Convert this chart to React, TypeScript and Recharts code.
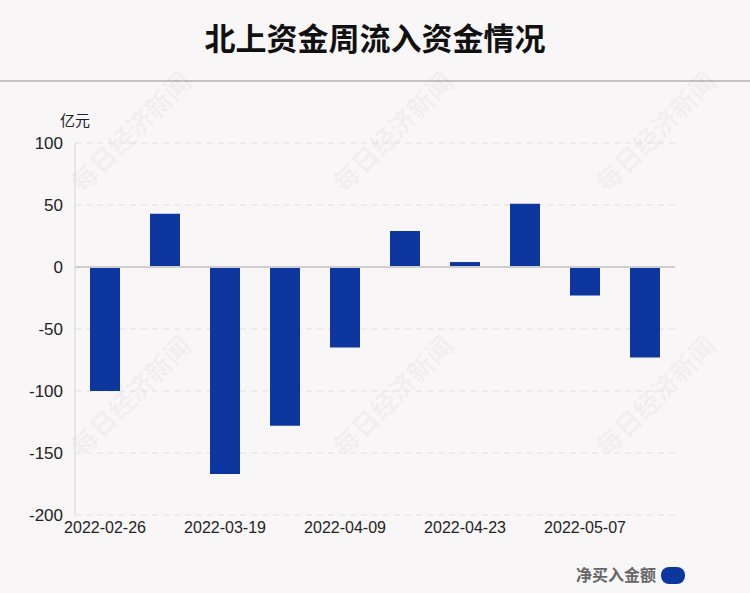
import React from 'react';
import {
  BarChart,
  Bar,
  XAxis,
  YAxis,
  CartesianGrid,
  ReferenceLine,
} from 'recharts';

const weeks = [
  '2022-02-26',
  '2022-03-05',
  '2022-03-19',
  '2022-04-02',
  '2022-04-09',
  '2022-04-16',
  '2022-04-23',
  '2022-04-30',
  '2022-05-07',
  '2022-05-14',
];
const netInflow = [-100, 43, -167, -128, -65, 29, 4, 51, -23, -73];
const yTicks = [100, 50, 0, -50, -100, -150, -200];

const data = weeks.map((week, i) => ({ week, value: netInflow[i] }));

const watermarks = [
  [130, 131],
  [392, 131],
  [655, 131],
  [130, 395],
  [392, 395],
  [655, 395],
];

export default function App() {
  return (
    <div
      style={{
        position: 'absolute',
        left: 0,
        top: 0,
        width: 750,
        height: 593,
        background: '#f9f6f7',
        overflow: 'hidden',
        fontFamily: '"Liberation Sans", Arial, sans-serif',
      }}
    >
      <div
        style={{
          position: 'absolute',
          top: 16,
          width: 750,
          textAlign: 'center',
          fontSize: 31,
          fontWeight: 'bold',
          fontFamily: '"Noto Sans CJK SC", sans-serif',
          color: '#111',
          lineHeight: '42px',
        }}
      >
        北上资金周流入资金情况
      </div>
      <div
        style={{
          position: 'absolute',
          top: 80,
          left: 0,
          width: 750,
          height: 2,
          background: '#c4c2c3',
        }}
      />

      {/* watermarks */}
      {watermarks.map(([x, y], i) => (
        <div
          key={i}
          style={{
            position: 'absolute',
            left: x - 90,
            top: y - 16,
            width: 180,
            textAlign: 'center',
            fontSize: 26,
            fontWeight: 'bold',
            fontFamily: '"Noto Sans CJK SC", sans-serif',
            color: 'rgba(0,0,0,0.055)',
            transform: 'rotate(-45deg)',
            lineHeight: '32px',
            whiteSpace: 'nowrap',
            pointerEvents: 'none',
          }}
        >
          每日经济新闻
        </div>
      ))}

      <div
        style={{
          position: 'absolute',
          left: 60,
          top: 109,
          fontSize: 15,
          fontFamily: '"Noto Sans CJK SC", sans-serif',
          color: '#222',
        }}
      >
        亿元
      </div>

      <div style={{ position: 'absolute', left: 0, top: 0 }}>
        <BarChart
          width={750}
          height={593}
          data={data}
          margin={{ top: 143, right: 75, bottom: 48, left: 0 }}
        >
          <CartesianGrid
            vertical={false}
            stroke="#e2dfe0"
            strokeDasharray="6 5"
          />
          <XAxis
            dataKey="week"
            interval={1}
            axisLine={false}
            tickLine={false}
            height={30}
            tickMargin={1}
            tick={{ fill: '#222', fontSize: 16 }}
          />
          <YAxis
            type="number"
            domain={[-200, 100]}
            ticks={yTicks}
            width={75}
            interval={0}
            axisLine={{ stroke: '#d6d4d5' }}
            tickLine={false}
            tickSize={6}
            tickMargin={6}
            tick={{ fill: '#222', fontSize: 17 }}
          />
          <ReferenceLine y={0} stroke="#cfcdce" strokeWidth={2} />
          <Bar
            dataKey="value"
            fill="#0d369e"
            barSize={30}
            isAnimationActive={false}
          />
        </BarChart>
      </div>

      <div
        style={{
          position: 'absolute',
          left: 576,
          top: 563,
          fontSize: 16,
          fontWeight: 'bold',
          fontFamily: '"Noto Sans CJK SC", sans-serif',
          color: '#666',
          lineHeight: '22px',
        }}
      >
        净买入金额
      </div>
      <div
        style={{
          position: 'absolute',
          left: 661,
          top: 567,
          width: 24,
          height: 17,
          borderRadius: 8,
          background: '#0d369e',
        }}
      />
    </div>
  );
}
